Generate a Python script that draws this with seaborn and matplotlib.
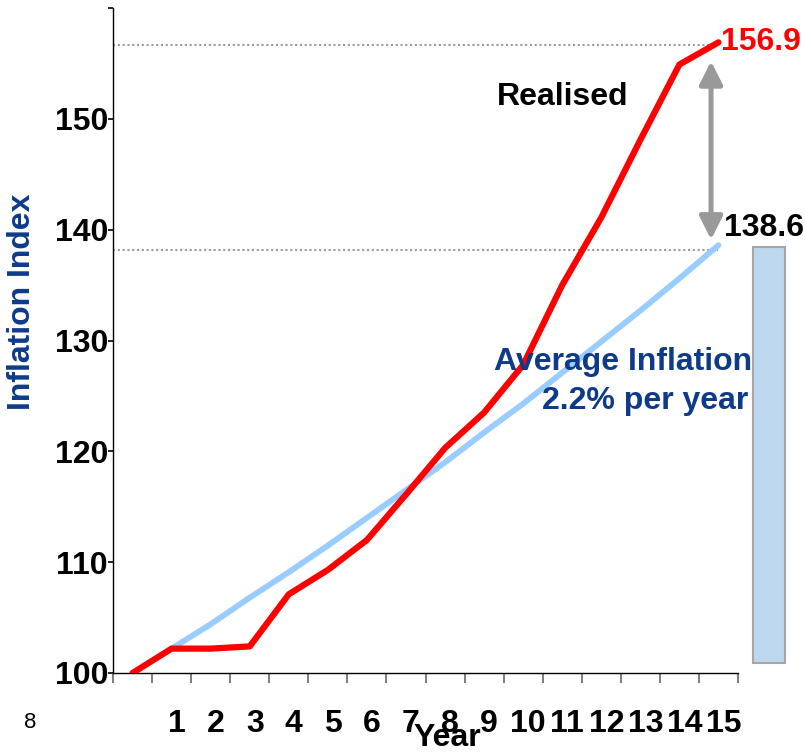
import numpy as np
import pandas as pd
import matplotlib
matplotlib.use('Agg')
import matplotlib.pyplot as plt
from matplotlib.transforms import ScaledTranslation
import seaborn as sns

# 数据
years = list(range(16))
realised = [100.0, 102.2, 102.2, 102.4, 107.1, 109.3, 112.0, 116.1, 120.3,
            123.5, 127.8, 135.0, 141.1, 148.1, 154.9, 156.9]
avg_years = list(range(1, 16))
average = [102.2, 104.4, 106.8, 109.1, 111.5, 114.0, 116.5, 119.0, 121.7,
           124.3, 127.1, 129.9, 132.7, 135.6, 138.6]
year_labels = [str(i) for i in range(1, 16)]
y_ticks = [100, 110, 120, 130, 140, 150, 160]
y_labels = ['100', '110', '120', '130', '140', '150', '']
ref_lines = [156.7, 138.2]
gap_arrow = [155.2, 139.1]
bar_range = [100.9, 138.4]

NAVY = '#0D3A8A'
RED = '#FF0000'
LIGHT_BLUE = '#99CCFF'
FS = 23

sns.set_style('white')
plt.rcParams['font.family'] = ['Liberation Sans', 'DejaVu Sans']
plt.rcParams['font.weight'] = 'bold'
plt.rcParams['text.color'] = 'black'
plt.rcParams['xtick.color'] = 'black'
plt.rcParams['ytick.color'] = 'black'

fig = plt.figure(figsize=(8.05, 7.54), dpi=100)
ax = fig.add_axes([113 / 805, 1 - 673 / 754, 625 / 805, 665 / 754])

df_real = pd.DataFrame({'Year': years, 'Index': realised})
df_avg = pd.DataFrame({'Year': avg_years, 'Index': average})

# 参考虚线
for v in ref_lines:
    ax.hlines(v, -0.5, 15, colors='#999999', linewidth=1.5,
              linestyles=(0, (1, 1.3)), zorder=1)

sns.lineplot(data=df_avg, x='Year', y='Index', color=LIGHT_BLUE,
             linewidth=4.2, ax=ax, zorder=2)
sns.lineplot(data=df_real, x='Year', y='Index', color=RED,
             linewidth=4.5, ax=ax, zorder=3)

# 右侧蓝色柱
ax.bar(16.3, bar_range[1] - bar_range[0], bottom=bar_range[0], width=0.82,
       color='#BDD7EE', edgecolor='#A6A6A6', linewidth=1.5, clip_on=False,
       zorder=2)

# 双向箭头
ax.annotate('', xy=(14.81, gap_arrow[0]), xytext=(14.81, gap_arrow[1]),
            arrowprops=dict(arrowstyle='<|-|>,head_length=0.7,head_width=0.35',
                            color='#999999', lw=3.6, mutation_scale=20,
                            shrinkA=0, shrinkB=0), zorder=4)

ax.set_xlim(-0.5, 15.5)
ax.set_ylim(100, 160)

ax.set_xticks(np.arange(-0.5, 16, 1))
ax.set_xticklabels([])
ax.set_xticks(avg_years, minor=True)
ax.set_xticklabels(year_labels, minor=True, fontsize=FS, fontweight='bold',
                   color='black')
ax.tick_params(axis='x', which='major', direction='out', length=7.2,
               width=1.2, color='#666666', bottom=True)
ax.tick_params(axis='x', which='minor', length=0, pad=26, bottom=True)
for lab in ax.get_xticklabels(minor=True):
    lab.set_transform(lab.get_transform() +
                      ScaledTranslation(0.05, 0, fig.dpi_scale_trans))

ax.set_yticks(y_ticks)
ax.set_yticklabels(y_labels, fontsize=FS, fontweight='bold', color='black')
ax.tick_params(axis='y', direction='out', length=3.6, width=1.2,
               color='black', pad=0, left=True)

ax.set_xlabel('')
ax.set_ylabel('')
for side in ['top', 'right']:
    ax.spines[side].set_visible(False)
for side in ['left', 'bottom']:
    ax.spines[side].set_color('black')
    ax.spines[side].set_linewidth(1.0)

# 文字注释
ax.text(11.0, 152.0, 'Realised', fontsize=FS, fontweight='bold',
        color='black', ha='center', va='center')
ax.text(15.07, 156.9, '156.9', fontsize=FS, fontweight='bold',
        color=RED, ha='left', va='center')
ax.text(15.14, 140.15, '138.6', fontsize=FS, fontweight='bold',
        color='black', ha='left', va='center')
ax.text(15.86, 128.06, 'Average Inflation', fontsize=FS, fontweight='bold',
        color=NAVY, ha='right', va='center')
ax.text(15.76, 124.5, '2.2% per year', fontsize=FS, fontweight='bold',
        color=NAVY, ha='right', va='center')

fig.text(22 / 805, 1 - 302 / 754, 'Inflation Index', rotation=90,
         fontsize=FS, fontweight='bold', color=NAVY, ha='center', va='center')
fig.text(447 / 805, 1 - 738 / 754, 'Year', fontsize=FS, fontweight='bold',
         color='black', ha='center', va='center')
fig.text(30 / 805, 1 - 723 / 754, '8', fontsize=16, fontweight='normal',
         color='black', ha='center', va='center')

fig.savefig('out.png', dpi=100)
plt.close(fig)
